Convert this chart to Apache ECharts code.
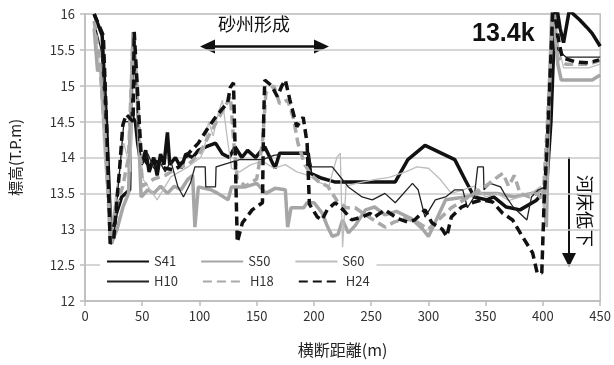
<!DOCTYPE html>
<html>
<head>
<meta charset="utf-8">
<script src="https://cdn.jsdelivr.net/npm/echarts@6/dist/echarts.min.js"></script>
<style>
  html, body { margin: 0; padding: 0; background: #fff; }
  #chart { width: 614px; height: 365px; }
</style>
</head>
<body>
<div id="chart"></div>
<script>
// 横断距離(m), 標高(T.P.m)
const xTicks = [0, 50, 100, 150, 200, 250, 300, 350, 400, 450]
const yTicks = [12, 12.5, 13, 13.5, 14, 14.5, 15, 15.5, 16]

const s41 = [[8,16.0],[15,15.7],[19,14.4],[23,12.8],[27,13.2],[32,13.45],[39,13.55],[40,14.6],[44,14.5],[46,14.2],[49,13.9],[53,14.1],[56,13.8],[60,14.0],[63,13.75],[66,14.05],[69,13.9],[72,14.35],[74,13.9],[79,14.0],[84,13.85],[88,14.05],[94,14.0],[99,14.1],[106,14.15],[114,14.2],[120,14.05],[126,14.0],[131,14.15],[137,14.0],[142,14.1],[149,14.0],[157,14.15],[166,13.85],[170,14.06],[195,14.06],[197,13.78],[207,13.71],[218,13.66],[271,13.66],[282,13.97],[297,14.17],[323,13.97],[332,13.69],[340,13.45],[351,13.41],[357,13.45],[368,13.31],[380,13.27],[394,13.4],[403,13.55],[407,14.5],[411,16.2],[415,15.8],[418,15.6],[423,16.05],[432,15.92],[438,15.82],[443,15.73],[450,15.55]]

const s50 = [[8,15.8],[11,15.2],[14,15.3],[18,14.2],[23,12.8],[28,13.0],[33,13.3],[38,13.5],[42,15.75],[45,15.1],[49,13.45],[55,13.55],[60,13.5],[66,13.6],[72,13.5],[78,13.6],[84,13.55],[90,13.7],[94,13.75],[96,13.03],[99,13.59],[110,13.55],[116,13.5],[125,13.41],[128,13.59],[140,13.59],[150,13.64],[158,13.5],[166,13.57],[175,13.55],[177,13.03],[180,13.3],[191,13.3],[194,13.37],[200,13.37],[207,13.23],[212,13.03],[216,12.9],[221,12.93],[225,13.13],[230,12.95],[236,13.05],[245,13.27],[253,13.31],[262,13.2],[272,13.25],[285,13.15],[295,13.0],[300,12.9],[306,13.1],[315,13.41],[332,13.45],[345,13.5],[360,13.5],[375,13.45],[390,13.5],[400,13.55],[403,13.03],[405,14.5],[408,16.2],[413,15.3],[416,15.08],[443,15.08],[450,15.15]]

const s60 = [[8,15.9],[12,15.4],[17,14.0],[22,12.9],[27,13.5],[34,14.2],[40,13.8],[43,15.7],[47,14.3],[51,13.69],[63,13.41],[75,13.73],[90,13.87],[101,14.0],[104,14.1],[108,14.5],[112,14.3],[116,14.6],[120,14.8],[124,14.3],[128,13.85],[135,13.8],[145,13.9],[155,13.95],[165,13.85],[175,13.9],[185,13.8],[195,13.75],[205,13.65],[213,13.6],[220,14.0],[223,14.06],[225,12.75],[228,13.6],[240,13.65],[255,13.7],[265,13.72],[280,13.8],[290,13.87],[300,13.85],[310,13.7],[320,13.5],[330,13.55],[340,13.6],[350,13.45],[360,13.5],[370,13.4],[380,13.45],[390,13.5],[398,13.6],[402,13.2],[405,14.5],[409,16.2],[413,15.6],[418,15.25],[440,15.25],[450,15.3]]

const h10 = [[8,15.9],[14,15.5],[19,14.2],[23,12.9],[28,13.4],[34,14.5],[40,14.5],[43,15.5],[47,14.2],[50,13.9],[55,14.05],[60,13.85],[65,13.95],[70,13.8],[75,13.95],[81,13.6],[86,13.45],[92,13.64],[96,13.87],[105,13.87],[105.5,13.59],[114,13.59],[114.5,13.87],[125,13.92],[135,13.97],[155,13.97],[165,14.03],[178,14.06],[195,14.06],[198,13.87],[216,13.87],[225,13.69],[230,13.59],[242,13.45],[251,13.41],[262,13.5],[271,13.37],[286,13.64],[291,13.55],[297,13.17],[300,13.25],[306,13.41],[315,13.45],[323,13.55],[330,13.55],[334,13.3],[340,13.45],[343,13.87],[348,13.87],[348.5,13.55],[354,13.64],[363,13.59],[368,13.45],[374,13.31],[386,13.13],[390,13.45],[396,13.55],[402,13.59],[405,14.5],[409,16.2],[413,15.5],[420,15.4],[450,15.4]]

const h18 = [[8,15.9],[13,15.3],[18,14.2],[22,12.85],[27,13.3],[33,13.6],[38,14.0],[42,15.7],[46,14.8],[50,13.6],[60,13.7],[70,13.75],[80,13.85],[90,13.9],[100,14.05],[108,14.3],[115,14.5],[122,14.7],[127,14.85],[130,14.2],[133,13.7],[140,13.6],[150,13.7],[155,14.2],[158,14.9],[165,15.0],[170,14.75],[177,14.8],[182,14.55],[186,14.2],[192,13.9],[198,13.75],[205,13.65],[212,13.6],[220,13.4],[228,13.3],[236,13.3],[245,13.2],[255,13.1],[262,13.03],[270,13.1],[280,13.15],[290,13.1],[300,13.0],[310,13.15],[320,13.3],[330,13.4],[340,13.5],[350,13.6],[358,13.7],[365,13.78],[370,13.6],[375,13.75],[380,13.5],[388,13.45],[395,13.5],[400,13.4],[404,14.5],[409,16.2],[413,15.4],[420,15.3],[440,15.3],[450,15.35]]

const h24 = [[8,16.0],[16,15.7],[19,14.4],[22,12.8],[25,12.85],[30,13.8],[33,14.45],[36,14.6],[42,14.5],[43,15.75],[47,14.6],[49,14.05],[55,13.9],[62,13.95],[70,13.85],[77,13.83],[82,13.87],[90,14.05],[99,14.2],[107,14.4],[114,14.56],[120,14.68],[124.5,14.76],[127,14.98],[129.7,15.04],[131,14.2],[133,12.82],[137.5,13.09],[146,13.27],[155,13.37],[156,14.5],[157,15.08],[163,15.0],[168,14.85],[172,15.0],[175,15.08],[179,14.8],[185,14.43],[190.6,14.56],[194,14.2],[196,13.35],[203,13.17],[207,13.13],[211.5,13.27],[218.5,13.37],[225.5,13.27],[233,13.13],[242,13.17],[249,13.22],[253,13.17],[262,13.27],[273,13.15],[282,13.1],[288,13.13],[297,13.27],[303,13.09],[312,13.0],[316,12.9],[320,13.17],[329,13.31],[338,13.37],[346.5,13.41],[356,13.38],[365,13.22],[373.5,13.13],[382,12.9],[391,12.67],[395,12.39],[399,12.39],[401,13.37],[404,14.29],[409,16.2],[414,15.6],[417,15.39],[429,15.33],[440,15.32],[449,15.36]]

const FONT = '"Noto Sans CJK JP", "Noto Sans", sans-serif'

const chart = echarts.init(document.getElementById('chart'), null, { renderer: 'canvas' })

const line = (name, data, color, width, dashed) => ({
  name,
  type: 'line',
  data,
  symbol: 'none',
  smooth: false,
  lineStyle: { color, width, type: dashed ? [9, 5] : 'solid', cap: 'butt' },
  itemStyle: { color }
})

const legendBase = {
  left: 100,
  itemWidth: 42, itemHeight: 12, itemGap: 24,
  backgroundColor: '#fff',
  itemStyle: { opacity: 0 },
  textStyle: { fontSize: 13, color: '#333', fontFamily: FONT }
}

chart.setOption({
  animation: false,
  textStyle: { fontFamily: FONT },
  grid: {
    left: 84, right: 13, top: 14, bottom: 64,
    show: true, borderColor: '#bdbdbd', borderWidth: 1.5
  },
  legend: [
    Object.assign({}, legendBase, {
      data: ['S41', 'S50', 'S60'],
      top: 251,
      padding: [4, 12, 2, 6]
    }),
    Object.assign({}, legendBase, {
      data: ['H10', 'H18', 'H24'],
      top: 273,
      padding: [2, 12, 6, 6]
    })
  ],
  xAxis: {
    type: 'value',
    min: xTicks[0], max: xTicks[xTicks.length - 1], interval: 50,
    name: '横断距離(m)',
    nameLocation: 'middle', nameGap: 41,
    nameTextStyle: { fontSize: 16, color: '#222', fontFamily: FONT },
    axisLine: { show: true, lineStyle: { color: '#bdbdbd', width: 1.5 } },
    axisTick: { show: true, length: 5, lineStyle: { color: '#bdbdbd', width: 1.5 } },
    axisLabel: { fontSize: 13, color: '#333', margin: 9 },
    splitLine: { show: false }
  },
  yAxis: {
    type: 'value',
    min: yTicks[0], max: yTicks[yTicks.length - 1], interval: 0.5,
    name: '標高(T.P.m)',
    nameLocation: 'middle', nameGap: 62, nameRotate: 90,
    nameTextStyle: { fontSize: 15, color: '#222', fontFamily: FONT },
    axisLine: { show: true, lineStyle: { color: '#bdbdbd', width: 1.5 } },
    axisTick: { show: true, length: 5, lineStyle: { color: '#bdbdbd', width: 1.5 } },
    axisLabel: { fontSize: 13, color: '#333', margin: 10 },
    splitLine: { show: true, lineStyle: { color: '#c8c8c8', width: 1.5 } }
  },
  series: [
    line('S41', s41, '#111', 3.5, false),
    line('S50', s50, '#a6a6a6', 3.5, false),
    line('S60', s60, '#bdbdbd', 1.3, false),
    line('H10', h10, '#222', 1.3, false),
    line('H18', h18, '#a9a9a9', 3.5, true),
    line('H24', h24, '#111', 3.5, true)
  ],
  graphic: [
    // 砂州形成 double arrow
    { type: 'text', left: 218, top: 15, style: { text: '砂州形成', font: '18px ' + FONT, fill: '#111' } },
    { type: 'line', shape: { x1: 212, y1: 46.5, x2: 316, y2: 46.5 }, style: { stroke: '#111', lineWidth: 2.5 } },
    { type: 'polygon', shape: { points: [[200, 46.5], [215, 39.5], [215, 53.5]] }, style: { fill: '#111' } },
    { type: 'polygon', shape: { points: [[329, 46.5], [314, 39.5], [314, 53.5]] }, style: { fill: '#111' } },
    // 13.4k
    { type: 'text', left: 472, top: 22, style: { text: '13.4k', font: 'bold 25px "Liberation Sans", Arial, sans-serif', fill: '#111' } },
    // 河床低下 arrow
    { type: 'line', shape: { x1: 569, y1: 157, x2: 569, y2: 256 }, style: { stroke: '#111', lineWidth: 2 } },
    { type: 'polygon', shape: { points: [[569, 267], [562, 253], [576, 253]] }, style: { fill: '#111' } },
    { type: 'text', x: 585, y: 211, rotation: -Math.PI / 2,
      style: { text: '河床低下', font: '18px ' + FONT, fill: '#111', align: 'center', verticalAlign: 'middle' } }
  ]
})
</script>
</body>
</html>
